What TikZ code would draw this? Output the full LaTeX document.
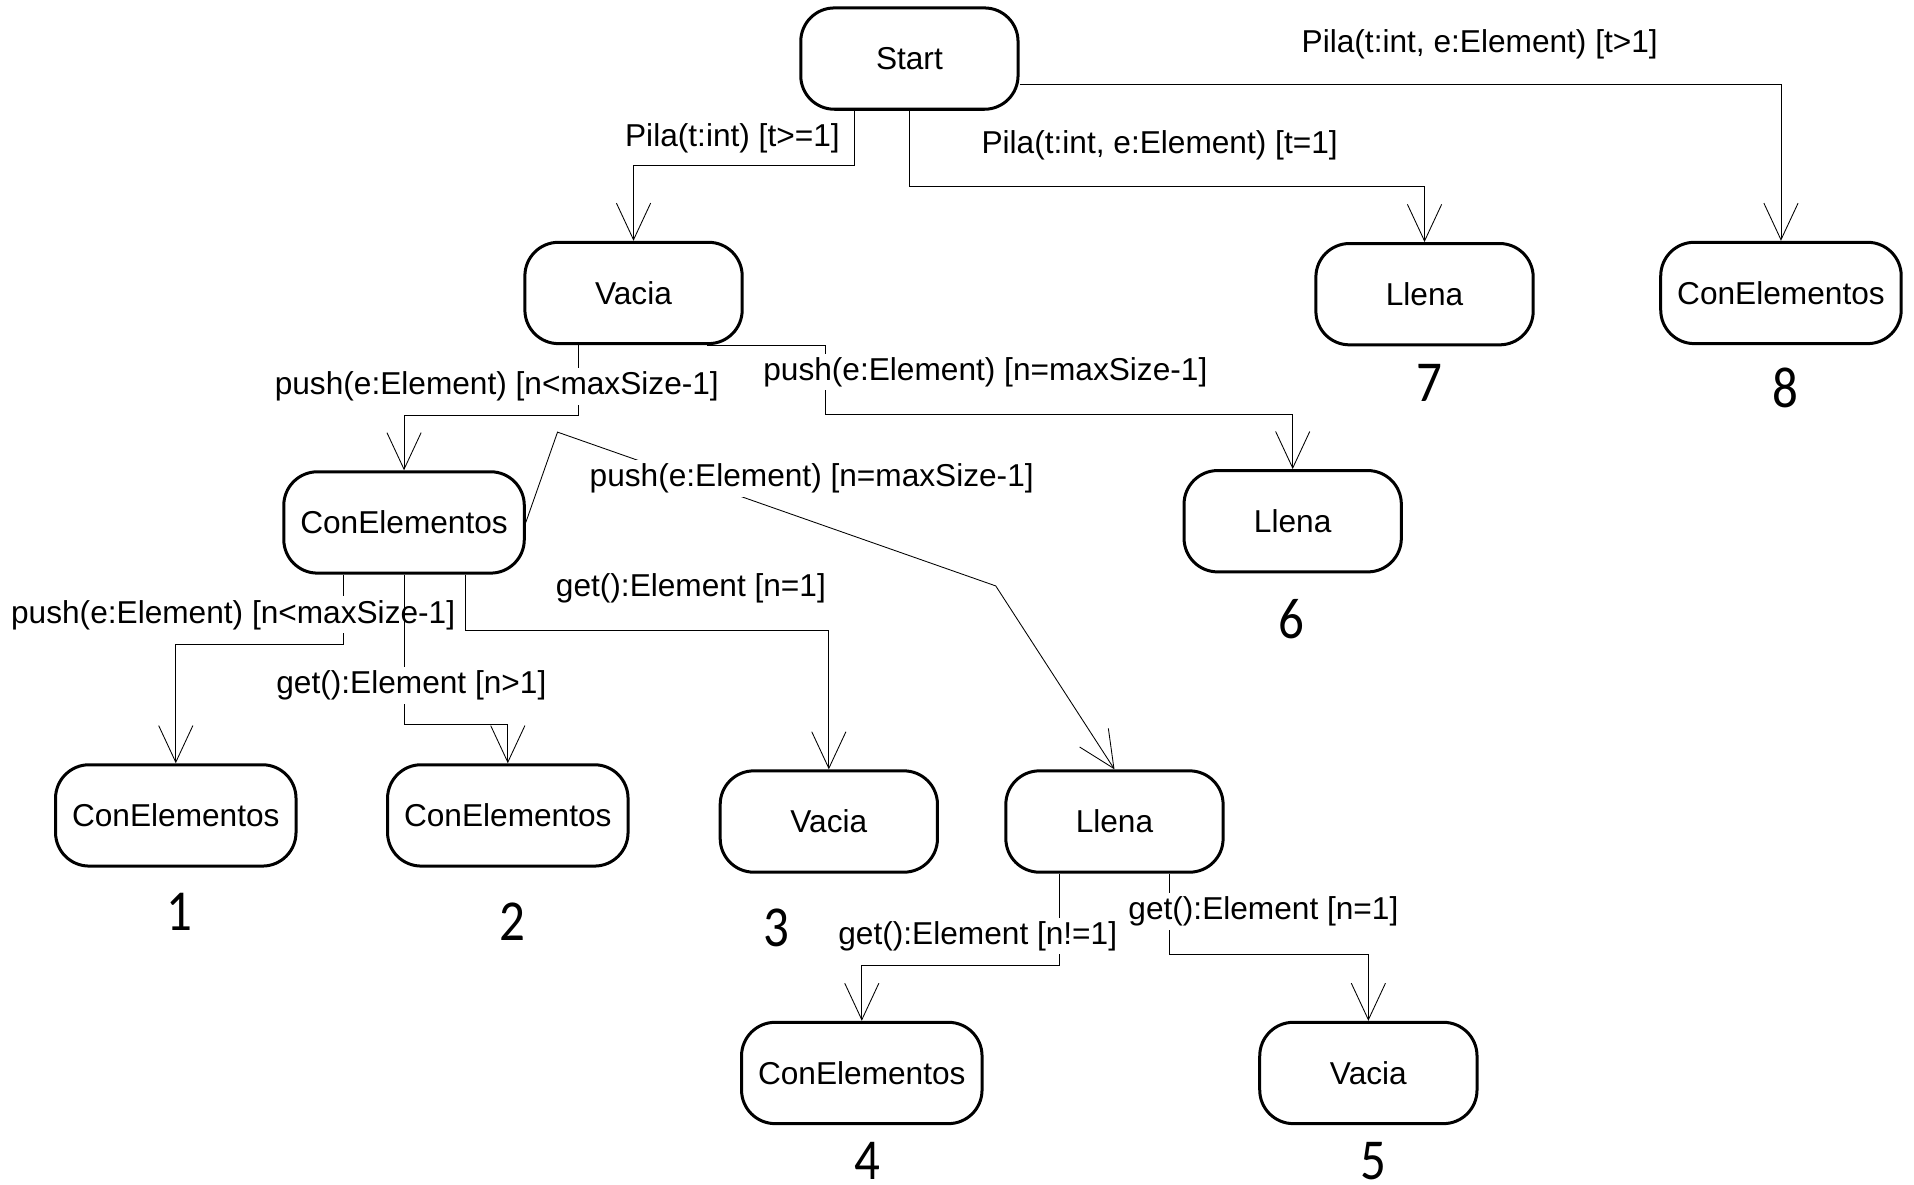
\documentclass[tikz,border=0pt]{standalone}
\usepackage{fontspec}
\setmainfont{Liberation Sans}
\newfontfamily\numfont[FakeStretch=0.88]{Carlito}
\usepackage{tikz}
\usetikzlibrary{arrows.meta,automata,positioning}
\newcommand{\txtsize}{\fontsize{14.75pt}{17pt}\selectfont}
\newcommand{\numsize}{\fontsize{27pt}{30pt}\selectfont\numfont}

\begin{document}
\begin{tikzpicture}[->,>={Straight Barb[length=0.6cm,width=0.56cm]}, on grid, thin]
    \tikzstyle{every state}=[rectangle,rounded corners=0.55cm,draw=black,line width=1.4pt,
                             minimum width=3.56cm,minimum height=1.66cm,inner xsep=0.27cm,font=\txtsize]
    \tikzstyle{lbl}=[fill=white,inner sep=0.06cm,font=\txtsize]
    \tikzstyle{num}=[font=\numsize]

    \useasboundingbox (0,0) rectangle (31.36,-19.40);

    % Estado inicial y constructores
    \node[state] (start)   at (14.9,-0.96)                                {Start};
    \node[state] (vacia)   [below left=3.84cm and 4.52cm of start]        {Vacia};
    \node[state] (llena7)  [below right=3.86cm and 8.44cm of start]       {Llena};
    \node[state] (con8)    [below right=3.84cm and 14.28cm of start]      {ConElementos};

    % Desde Vacia
    \node[state] (con)     [below left=3.76cm and 3.76cm of vacia]        {ConElementos};
    \node[state] (llena6)  [below right=3.74cm and 10.8cm of vacia]       {Llena};

    % Desde ConElementos
    \node[state] (con1)    [below left=4.8cm and 3.74cm of con]           {ConElementos};
    \node[state] (con2)    [below right=4.8cm and 1.7cm of con]           {ConElementos};
    \node[state] (vacia3)  [below right=4.9cm and 6.96cm of con]          {Vacia};
    \node[state] (llena)   [below right=4.9cm and 11.64cm of con]         {Llena};

    % Desde Llena
    \node[state] (con4)    [below left=4.12cm and 4.14cm of llena]        {ConElementos};
    \node[state] (vacia5)  [below right=4.12cm and 4.16cm of llena]       {Vacia};

    % Numeros de caso
    \node[num] (n1) [below=1.58cm of con1, xshift=0.06cm]    {1};
    \node[num] (n2) [below=1.74cm of con2, xshift=0.08cm]    {2};
    \node[num] (n3) [below=1.74cm of vacia3, xshift=-0.86cm] {3};
    \node[num] (n4) [below=1.44cm of con4, xshift=0.1cm]     {4};
    \node[num] (n5) [below=1.44cm of vacia5, xshift=0.08cm]  {5};
    \node[num] (n6) [below=1.6cm of llena6, xshift=-0.02cm]  {6};
    \node[num] (n7) [below=1.46cm of llena7, xshift=0.08cm]  {7};
    \node[num] (n8) [below=1.56cm of con8, xshift=0.08cm]    {8};

    % Transiciones desde Start
    \draw ([xshift=-0.9cm]start.south) -- ++(0,-0.9cm)
        node[lbl,pos=0.5,xshift=-2cm] (l1) {Pila(t:int) [t>=1]} -| (vacia.north);
    \draw (start.south) -- ++(0,-1.24cm)
        node[lbl,xshift=4.1cm,yshift=0.68cm] (l2) {Pila(t:int, e:Element) [t=1]} -| (llena7.north);
    \draw ([yshift=-0.42cm]start.east)
        node[lbl,xshift=7.54cm,yshift=0.66cm] (l3) {Pila(t:int, e:Element) [t>1]} -| (con8.north);

    % Transiciones desde Vacia
    \draw ([xshift=-0.9cm]vacia.south) -- ++(0,-1.16cm)
        node[lbl,pos=0.5,xshift=-1.34cm,yshift=-0.1cm] (l4) {push(e:Element) [n<maxSize-1]} -| (con.north);
    \draw ([xshift=-0.6cm]vacia.south east) -- ++(1.94cm,0) -- ++(0,-1.14cm)
        node[lbl,pos=0.5,xshift=2.62cm,yshift=0.13cm] (l5) {push(e:Element) [n=maxSize-1]} -| (llena6.north);

    % Transiciones desde ConElementos
    \draw (con.east) -- ++(0.52cm,1.48cm)
        -- node[lbl,pos=0.58,yshift=0.7cm] (l6) {push(e:Element) [n=maxSize-1]} ++(7.18cm,-2.52cm)
        -- (llena.north);
    \draw ([xshift=-1cm]con.south) -- ++(0,-1.14cm)
        node[lbl,pos=0.5,xshift=-1.8cm,yshift=-0.09cm] (l7) {push(e:Element) [n<maxSize-1]} -| (con1.north);
    \draw (con.south) -- ++(0,-2.46cm)
        node[lbl,pos=0.74,xshift=0.12cm] (l8) {get():Element [n>1]} -| (con2.north);
    \draw ([xshift=1cm]con.south) -- ++(0,-0.92cm)
        node[lbl,xshift=3.7cm,yshift=0.7cm] (l9) {get():Element [n=1]} -| (vacia3.north);

    % Transiciones desde Llena
    \draw ([xshift=-0.9cm]llena.south) -- ++(0,-1.5cm)
        node[lbl,pos=0.5,xshift=-1.34cm,yshift=-0.27cm] (l10) {get():Element [n!=1]} -| (con4.north);
    \draw ([xshift=0.9cm]llena.south) -- ++(0,-1.32cm)
        node[lbl,pos=0.5,xshift=1.54cm,yshift=0.04cm] (l11) {get():Element [n=1]} -| (vacia5.north);
\end{tikzpicture}
\end{document}
